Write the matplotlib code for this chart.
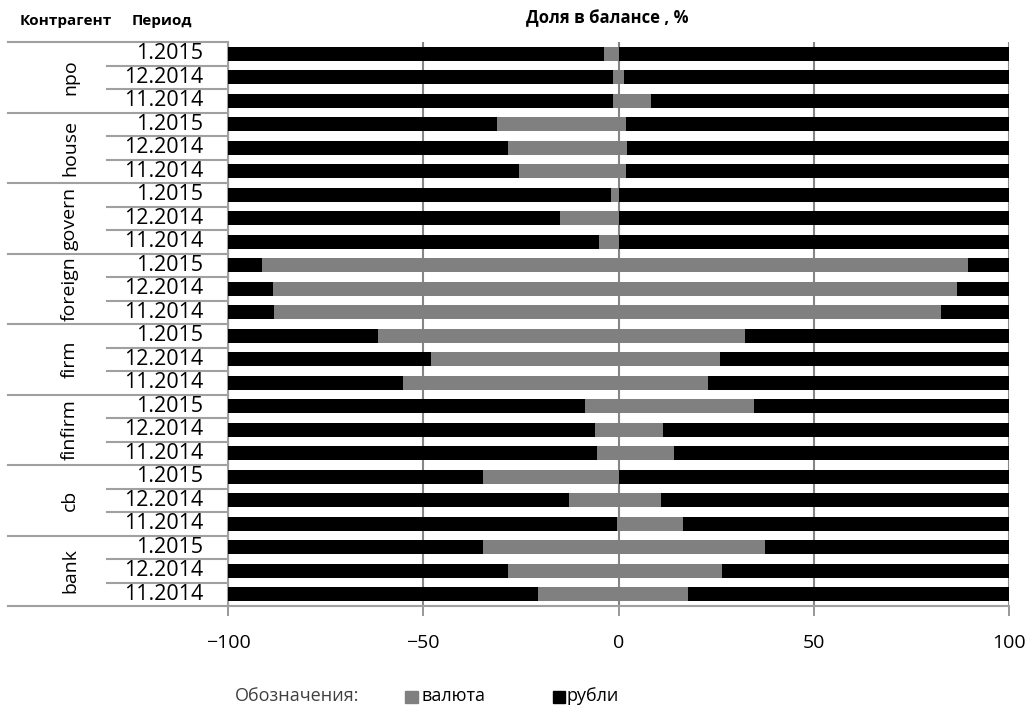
import numpy as np
import matplotlib
matplotlib.use('Agg')
import matplotlib.pyplot as plt
from matplotlib.patches import Rectangle

plt.rcParams['font.family'] = ['Open Sans', 'DejaVu Sans']

# Данные: доля валюты задана отрезком [начало, конец] на шкале -100..100
groups = ['npo', 'house', 'govern', 'foreign', 'firm', 'finfirm', 'cb', 'bank']
periods = ['1.2015', '12.2014', '11.2014']

valuta_start = [-3.6, -1.3, -1.3,
                -31.2, -28.2, -25.4,
                -1.8, -15.1, -5.1,
                -91.4, -88.6, -88.3,
                -61.5, -48.1, -55.1,
                -8.7, -6.1, -5.6,
                -34.8, -12.8, -0.5,
                -34.6, -28.4, -20.7]
valuta_end = [0.2, 1.3, 8.2,
              2.0, 2.3, 2.0,
              0.0, 0.0, 0.0,
              89.4, 86.8, 82.5,
              32.5, 26.1, 23.0,
              34.8, 11.5, 14.3,
              0.0, 11.0, 16.4,
              37.4, 26.6, 17.9]

xmin, xmax = -100, 100
xticks = [-100, -50, 0, 50, 100]
xticklabels = ['\u2212100', '\u221250', '0', '50', '100']

vs = np.array(valuta_start)
ve = np.array(valuta_end)
n = len(vs)
y = np.arange(n)

fig = plt.figure(figsize=(10.33, 7.09), dpi=100)
ax = fig.add_axes([228 / 1033, 1 - 606 / 709, 781 / 1033, (606 - 42) / 709])

bh = 0.6
ax.barh(y, vs - xmin, left=xmin, height=bh, color='black', zorder=3)
ax.barh(y, ve - vs, left=vs, height=bh, color='#808080', zorder=3)
ax.barh(y, xmax - ve, left=ve, height=bh, color='black', zorder=3)

ax.set_xlim(xmin, xmax)
ax.set_ylim(n - 0.5, -0.5)
ax.set_xticks(xticks)
ax.set_xticklabels(xticklabels, fontsize=14)
ax.set_yticks([])
ax.grid(axis='x', color='#868686', linewidth=1.5, zorder=0)
ax.tick_params(axis='x', direction='out', length=7, width=1.2, color='#868686', pad=13)
for s in ['top', 'right']:
    ax.spines[s].set_visible(False)
ax.spines['left'].set_color('#a0a0a0')
ax.spines['left'].set_linewidth(1.5)
ax.spines['bottom'].set_color('#a0a0a0')
ax.spines['bottom'].set_linewidth(1.5)

# Таблица слева: подписи периодов и контрагентов
tr = ax.get_yaxis_transform()
x_group_line = (8 - 228) / 781
x_period_line = (107 - 228) / 781
line_kw = dict(color='#a0a0a0', linewidth=1.5, transform=tr, clip_on=False)
for i in range(n):
    ax.text(-0.032, i, periods[i % 3], transform=tr, ha='right', va='center', fontsize=15.5)
    if i % 3 == 0:
        ax.plot([x_group_line, 0], [i - 0.5, i - 0.5], **line_kw)
    else:
        ax.plot([x_period_line, 0], [i - 0.5, i - 0.5], **line_kw)
ax.plot([x_group_line, 0], [n - 0.5, n - 0.5], **line_kw)
for g, name in enumerate(groups):
    ax.text((70 - 228) / 781, g * 3 + 1, name, transform=tr, ha='center', va='center',
            rotation=90, fontsize=14)

# Заголовки
fig.text(20 / 1033, 1 - 21 / 709, 'Контрагент', fontsize=11, fontweight='bold', va='center')
fig.text(132 / 1033, 1 - 21 / 709, 'Период', fontsize=11, fontweight='bold', va='center')
fig.text(607 / 1033, 1 - 18 / 709, 'Доля в балансе , %', fontsize=12,
         fontweight='bold', ha='center', va='center')

# Обозначения
ly = 1 - 696 / 709
fig.text(235 / 1033, ly, 'Обозначения:', fontsize=13, color='#404040', va='center')
fig.patches.append(Rectangle((405 / 1033, 1 - 703 / 709), 13 / 1033, 12 / 709,
                             transform=fig.transFigure, color='#808080'))
fig.text(421 / 1033, ly, 'валюта', fontsize=13, va='center')
fig.patches.append(Rectangle((553 / 1033, 1 - 703 / 709), 12 / 1033, 12 / 709,
                             transform=fig.transFigure, color='black'))
fig.text(567 / 1033, ly, 'рубли', fontsize=13, va='center')

fig.savefig('out.png', dpi=100)
